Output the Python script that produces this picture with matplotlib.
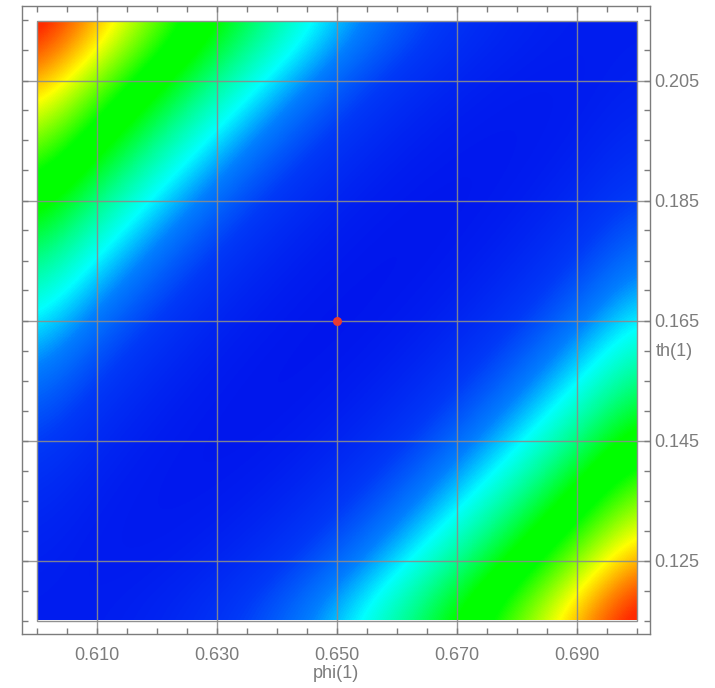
import numpy as np
import matplotlib
matplotlib.use("Agg")
from matplotlib import pyplot as plt
from matplotlib.colors import LinearSegmentedColormap
from matplotlib.patches import Rectangle

# parameter ranges shown in the map
phi_range = [0.600, 0.700]
th_range = [0.115, 0.215]

# estimated surface level (0 = min, 1 = max), rows from th=0.215 (top) down to 0.115,
# columns from phi=0.600 to 0.700 in steps of 0.01
levels = [
    [1.000, 0.805, 0.631, 0.480, 0.350, 0.241, 0.154, 0.089, 0.046, 0.024, 0.024],
    [0.816, 0.640, 0.486, 0.354, 0.243, 0.154, 0.087, 0.042, 0.018, 0.016, 0.035],
    [0.651, 0.494, 0.360, 0.247, 0.156, 0.087, 0.039, 0.013, 0.009, 0.026, 0.065],
    [0.505, 0.368, 0.253, 0.160, 0.088, 0.039, 0.010, 0.004, 0.019, 0.056, 0.114],
    [0.378, 0.261, 0.166, 0.092, 0.040, 0.010, 0.001, 0.014, 0.049, 0.105, 0.183],
    [0.271, 0.173, 0.098, 0.043, 0.011, 0.000, 0.011, 0.043, 0.098, 0.173, 0.271],
    [0.183, 0.105, 0.049, 0.014, 0.001, 0.010, 0.040, 0.092, 0.166, 0.261, 0.378],
    [0.114, 0.056, 0.019, 0.004, 0.010, 0.039, 0.088, 0.160, 0.253, 0.368, 0.505],
    [0.065, 0.026, 0.009, 0.013, 0.039, 0.087, 0.156, 0.247, 0.360, 0.494, 0.651],
    [0.035, 0.016, 0.018, 0.042, 0.087, 0.154, 0.243, 0.354, 0.486, 0.640, 0.816],
    [0.024, 0.024, 0.046, 0.089, 0.154, 0.241, 0.350, 0.480, 0.631, 0.805, 1.000],
]

# optimum marked with the red dot
phi_hat = 0.650
th_hat = 0.165

x_ticks = [0.610, 0.630, 0.650, 0.670, 0.690]
y_ticks = [0.125, 0.145, 0.165, 0.185, 0.205]

cmap = LinearSegmentedColormap.from_list("surf", [
    (0.00, (0.0, 0.08, 0.93)),
    (0.10, (0.0, 0.22, 0.97)),
    (0.19, (0.0, 0.50, 1.0)),
    (0.27, (0.0, 1.0, 1.0)),
    (0.36, (0.0, 1.0, 0.55)),
    (0.46, (0.0, 1.0, 0.0)),
    (0.55, (0.0, 1.0, 0.0)),
    (0.73, (1.0, 1.0, 0.0)),
    (0.83, (1.0, 0.55, 0.0)),
    (0.92, (1.0, 0.18, 0.0)),
    (1.00, (1.0, 0.10, 0.0)),
])

plt.rcParams['font.family'] = ['Liberation Sans', 'DejaVu Sans']
grey = '#7c7c7c'

fig = plt.figure(figsize=(7.15, 6.88), dpi=100)
ax = fig.add_axes([22/715, 1 - 634/688, 628/715, 628/688])

z = np.array(levels)
nr, nc = z.shape
dx = (phi_range[1] - phi_range[0]) / (nc - 1)
dy = (th_range[1] - th_range[0]) / (nr - 1)
im = ax.imshow(z, cmap=cmap, vmin=0, vmax=1, interpolation='bicubic',
               interpolation_stage='data', aspect='auto', origin='upper',
               extent=(phi_range[0] - dx/2, phi_range[1] + dx/2,
                       th_range[0] - dy/2, th_range[1] + dy/2), zorder=1)
box = Rectangle((phi_range[0], th_range[0]), phi_range[1] - phi_range[0],
                th_range[1] - th_range[0], transform=ax.transData)
im.set_clip_path(box)
ax.add_patch(Rectangle((phi_range[0], th_range[0]), phi_range[1] - phi_range[0],
                       th_range[1] - th_range[0], fill=False, ec='#909090', lw=1, zorder=2))

ax.set_xlim(phi_range[0] - 14.7/6000, phi_range[1] + 13.3/6000)
ax.set_ylim(th_range[0] - 13.5/6000, th_range[1] + 14.5/6000)

ax.set_xticks(x_ticks)
ax.set_xticklabels(['%.3f' % t for t in x_ticks])
ax.set_xticks(np.arange(0.600, 0.7001, 0.005), minor=True)
ax.set_yticks(y_ticks)
ax.set_yticklabels(['%.3f' % t for t in y_ticks])
ax.set_yticks(np.arange(0.115, 0.2151, 0.005), minor=True)

ax.yaxis.tick_right()
ax.tick_params(which='both', direction='in', length=4, width=1, color=grey,
               top=True, bottom=True, left=True, right=True,
               labelcolor=grey, labelsize=13)
ax.tick_params(axis='x', which='major', pad=9)
ax.tick_params(axis='y', which='major', pad=3)
for s in ax.spines.values():
    s.set_color(grey)
    s.set_linewidth(1)

ax.grid(True, which='major', color='#8c8c8c', lw=1, alpha=0.9, zorder=3)
ax.set_axisbelow(False)

ax.plot([phi_hat], [th_hat], 'o', color='#e83a30', ms=6.5, mec='none', zorder=4)

ax.set_xlabel('phi(1)', color=grey, fontsize=13, labelpad=1)
ax.annotate('th(1)', xy=(1, 0.15975), xycoords=('axes fraction', 'data'),
            xytext=(4, 0), textcoords='offset points', va='center', ha='left',
            color=grey, fontsize=13)

fig.savefig('out.png', dpi=100)
